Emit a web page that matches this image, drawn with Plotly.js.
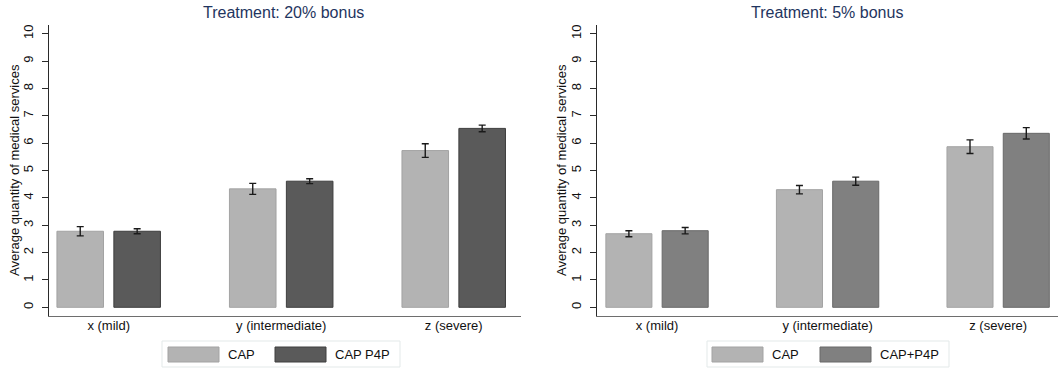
<!DOCTYPE html>
<html>
<head>
<meta charset="utf-8">
<script src="https://cdn.plot.ly/plotly-3.0.1.min.js"></script>
<style>html,body{margin:0;padding:0;background:#fff;}#chart{width:1058px;height:368px;}</style>
</head>
<body>
<div id="chart"></div>
<script>
// ---- data ----
var categories = ['x (mild)', 'y (intermediate)', 'z (severe)'];
var panelTitles = ['Treatment: 20% bonus', 'Treatment: 5% bonus'];
var seriesNamesLeft = ['CAP', 'CAP P4P'];
var seriesNamesRight = ['CAP', 'CAP+P4P'];
var yAxisTitle = 'Average quantity of medical services';
var yTicks = [0, 1, 2, 3, 4, 5, 6, 7, 8, 9, 10];

var left_CAP = [2.78, 4.33, 5.73];
var left_CAP_err = [0.17, 0.20, 0.25];
var left_P4P = [2.78, 4.61, 6.54];
var left_P4P_err = [0.09, 0.09, 0.12];

var right_CAP = [2.69, 4.30, 5.87];
var right_CAP_err = [0.11, 0.155, 0.25];
var right_P4P = [2.80, 4.61, 6.36];
var right_P4P_err = [0.115, 0.15, 0.21];

// ---- styles ----
var W = 1058, H = 368;
var FONT = '"Liberation Sans", Arial, Helvetica, sans-serif';
var capColor = '#b3b3b3', capLine = '#a3a3a3';
var p4pLeft = '#5a5a5a', p4pLeftLine = '#3e3e3e';
var p4pRight = '#808080', p4pRightLine = '#686868';
var barW = 0.27, offA = -0.30, offB = 0.03;

function px(x){ return x / W; }
function py(y){ return 1 - y / H; }

function barTrace(name, y, err, color, line, off, xa, ya){
  return {
    type: 'bar', name: name, x: categories, y: y,
    xaxis: xa, yaxis: ya, width: barW, offset: off,
    marker: {color: color, line: {color: line, width: 1}},
    error_y: {type: 'data', array: err, visible: true, color: '#1a1a1a', thickness: 1.4, width: 3.5},
    showlegend: false, hoverinfo: 'y'
  };
}

var data = [
  barTrace(seriesNamesLeft[0], left_CAP, left_CAP_err, capColor, capLine, offA, 'x', 'y'),
  barTrace(seriesNamesLeft[1], left_P4P, left_P4P_err, p4pLeft, p4pLeftLine, offB, 'x', 'y'),
  barTrace(seriesNamesRight[0], right_CAP, right_CAP_err, capColor, capLine, offA, 'x2', 'y2'),
  barTrace(seriesNamesRight[1], right_P4P, right_P4P_err, p4pRight, p4pRightLine, offB, 'x2', 'y2')
];

var yDomain = [py(315.7), py(25)];
function xAxis(domain, range){
  return {
    domain: domain, range: range, type: 'category',
    showline: true, linecolor: '#6e6e6e', linewidth: 1.2,
    ticks: '', showgrid: false, zeroline: false,
    tickfont: {family: FONT, size: 13, color: '#111'},
    ticklabelstandoff: -3, fixedrange: true
  };
}
function yAxis(anchor){
  return {
    domain: yDomain, range: [-0.307, 10.32], anchor: anchor,
    tickvals: yTicks, ticktext: yTicks.map(String),
    showline: true, linecolor: '#2a2a2a', linewidth: 1.2,
    ticks: 'outside', ticklen: 6, tickcolor: '#2a2a2a', tickwidth: 1,
    tickangle: -90, showgrid: false, zeroline: false,
    ticklabelstandoff: 4,
    tickfont: {family: FONT, size: 13, color: '#111'},
    fixedrange: true
  };
}

var shapes = [];
var annotations = [];

// titles & y-axis titles
[[283, panelTitles[0], 15], [827, panelTitles[1], 562]].forEach(function(t){
  annotations.push({xref: 'paper', yref: 'paper', x: px(t[0]), y: py(13), text: t[1],
    showarrow: false, xanchor: 'center', yanchor: 'middle',
    font: {family: FONT, size: 16, color: '#1f3560'}});
  annotations.push({xref: 'paper', yref: 'paper', x: px(t[2]), y: py(170), text: yAxisTitle,
    showarrow: false, textangle: -90, xanchor: 'center', yanchor: 'middle',
    font: {family: FONT, size: 13, color: '#111'}});
});

// legends
function legend(box, sw1, sw2, names, c2, l2){
  shapes.push({type: 'rect', xref: 'paper', yref: 'paper', x0: px(box[0]), x1: px(box[1]), y0: py(367), y1: py(341),
    line: {color: '#e3e9e9', width: 1}, fillcolor: '#ffffff'});
  shapes.push({type: 'rect', xref: 'paper', yref: 'paper', x0: px(sw1), x1: px(sw1 + 51), y0: py(362), y1: py(347),
    line: {color: capLine, width: 1}, fillcolor: capColor});
  shapes.push({type: 'rect', xref: 'paper', yref: 'paper', x0: px(sw2), x1: px(sw2 + 51), y0: py(362), y1: py(347),
    line: {color: l2, width: 1}, fillcolor: c2});
  annotations.push({xref: 'paper', yref: 'paper', x: px(sw1 + 58), y: py(354.5), text: names[0], showarrow: false,
    xanchor: 'left', yanchor: 'middle', font: {family: FONT, size: 13, color: '#111'}});
  annotations.push({xref: 'paper', yref: 'paper', x: px(sw2 + 58), y: py(354.5), text: names[1], showarrow: false,
    xanchor: 'left', yanchor: 'middle', font: {family: FONT, size: 13, color: '#111'}});
}
legend([162, 400], 168, 275, seriesNamesLeft, p4pLeft, p4pLeftLine);
legend([707, 949], 712, 820, seriesNamesRight, p4pRight, p4pRightLine);

var layout = {
  width: W, height: H,
  margin: {l: 0, r: 0, t: 0, b: 0, pad: 0},
  paper_bgcolor: '#ffffff', plot_bgcolor: '#ffffff',
  barmode: 'overlay', showlegend: false,
  font: {family: FONT, size: 13, color: '#111'},
  xaxis: xAxis([px(49), px(521)], [-0.346, 2.390]),
  yaxis: yAxis('x'),
  xaxis2: xAxis([px(597), 1], [-0.352, 2.351]),
  yaxis2: yAxis('x2'),
  shapes: shapes,
  annotations: annotations
};
layout.xaxis.anchor = 'y';
layout.xaxis2.anchor = 'y2';

Plotly.newPlot('chart', data, layout, {displayModeBar: false, staticPlot: true});
</script>
</body>
</html>
